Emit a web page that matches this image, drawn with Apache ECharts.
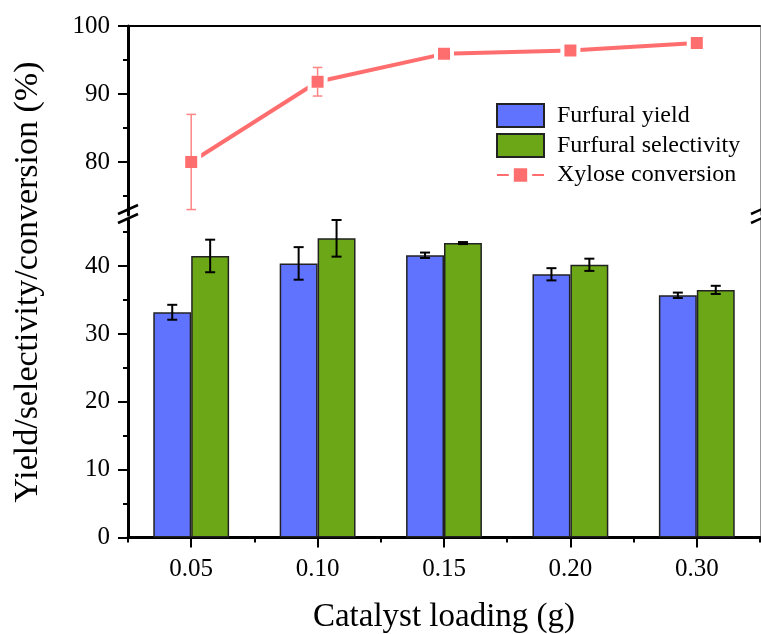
<!DOCTYPE html>
<html>
<head>
<meta charset="utf-8">
<script src="https://cdn.jsdelivr.net/npm/echarts@6/dist/echarts.min.js"></script>
<style>
html,body{margin:0;padding:0;background:#fff;}
#c{width:761px;height:634px;}
</style>
</head>
<body>
<div id="c"></div>
<script>
var categories = ['0.05', '0.10', '0.15', '0.20', '0.30'];
var yieldVals = [33.2, 40.4, 41.6, 38.8, 35.7];
var yieldErr = [1.1, 2.4, 0.4, 0.9, 0.4];
var selVals = [41.5, 44.1, 43.4, 40.2, 36.5];
var selErr = [2.4, 2.7, 0.15, 0.9, 0.6];
var convVals = [80.0, 91.8, 95.9, 96.4, 97.5];
var convErr = [7.0, 2.1, 0.4, 0.3, 0.3];
var upperLabels = [80, 90, 100];
var upperMinor = [75, 85, 95];
var lowerLabels = [0, 10, 20, 30, 40];
var lowerMinor = [5, 15, 25, 35, 45];

var FONT = '"Liberation Serif", "Times New Roman", serif';
var BLUE = '#6073FF';
var GREEN = '#6BA716';
var RED = '#FF6E6E';
var RED_ERR = '#FF8585';

var upMin = 72.2, upMax = 100, lowMin = 0, lowMax = 46.8;

function barErrData(vals, errs) {
  return vals.map(function (v, i) { return [i, v, errs[i]]; });
}

function makeBarErr(sideSign) {
  return function (params, api) {
    var i = api.value(0), v = api.value(1), e = api.value(2);
    var bw = api.size([1, 0])[0];
    var x = api.coord([i, v])[0] + sideSign * bw * 0.15;
    var yt = api.coord([i, v + e])[1];
    var yb = api.coord([i, v - e])[1];
    var cap = 5;
    var st = { stroke: '#000', lineWidth: 2 };
    return {
      type: 'group',
      children: [
        { type: 'line', shape: { x1: x, y1: yt, x2: x, y2: yb }, style: st },
        { type: 'line', shape: { x1: x - cap, y1: yt, x2: x + cap, y2: yt }, style: st },
        { type: 'line', shape: { x1: x - cap, y1: yb, x2: x + cap, y2: yb }, style: st }
      ]
    };
  };
}

function convErrRender(params, api) {
  var i = api.value(0), v = api.value(1), e = api.value(2);
  var c = api.coord([i, v]);
  var yt = api.coord([i, v + e])[1];
  var yb = api.coord([i, v - e])[1];
  var half = 6, cap = 4.75;
  var st = { stroke: RED_ERR, lineWidth: 1.5 };
  var ch = [];
  if (c[1] - yt > half + 1) {
    ch.push({ type: 'line', shape: { x1: c[0], y1: yt, x2: c[0], y2: c[1] - half }, style: st });
    ch.push({ type: 'line', shape: { x1: c[0] - cap, y1: yt, x2: c[0] + cap, y2: yt }, style: st });
  }
  if (yb - c[1] > half + 1) {
    ch.push({ type: 'line', shape: { x1: c[0], y1: c[1] + half, x2: c[0], y2: yb }, style: st });
    ch.push({ type: 'line', shape: { x1: c[0] - cap, y1: yb, x2: c[0] + cap, y2: yb }, style: st });
  }
  return { type: 'group', children: ch };
}

var labelStyle = { fontFamily: FONT, fontSize: 25, color: '#000' };

var option = {
  backgroundColor: '#fff',
  animation: false,
  grid: [
    { left: 128, right: 1, top: 26, height: 189, outerBoundsMode: 'none', containLabel: false },
    { left: 128, right: 1, top: 220, height: 317.5, outerBoundsMode: 'none', containLabel: false }
  ],
  xAxis: [
    { type: 'category', gridIndex: 0, data: categories, position: 'top',
      axisLine: { show: true, lineStyle: { color: '#000', width: 2 } },
      axisTick: { show: false }, axisLabel: { show: false }, splitLine: { show: false } },
    { type: 'category', gridIndex: 1, data: categories, position: 'bottom',
      axisLine: { show: true, lineStyle: { color: '#000', width: 3 } },
      axisTick: { show: true, alignWithLabel: true, length: 10, lineStyle: { color: '#000', width: 2 } },
      axisLabel: Object.assign({ margin: 19 }, labelStyle),
      name: 'Catalyst loading (g)', nameLocation: 'middle', nameGap: 63,
      nameTextStyle: { fontFamily: FONT, fontSize: 33, color: '#000' },
      splitLine: { show: false } },
    { type: 'category', gridIndex: 1, data: categories, position: 'bottom',
      axisLine: { show: false },
      axisTick: { show: true, length: 5, lineStyle: { color: '#000', width: 2 } },
      axisLabel: { show: false }, splitLine: { show: false } }
  ],
  yAxis: [
    { type: 'value', gridIndex: 0, min: upMin, max: upMax, position: 'left',
      axisLine: { show: true, lineStyle: { color: '#000', width: 3 } },
      axisTick: { show: true, length: 10, customValues: upperLabels, lineStyle: { color: '#000', width: 2 } },
      axisLabel: Object.assign({ margin: 18, customValues: upperLabels }, labelStyle),
      splitLine: { show: false } },
    { type: 'value', gridIndex: 0, min: upMin, max: upMax, position: 'left',
      axisLine: { show: false },
      axisTick: { show: true, length: 5, customValues: upperMinor, lineStyle: { color: '#000', width: 2 } },
      axisLabel: { show: false }, splitLine: { show: false } },
    { type: 'value', gridIndex: 0, min: upMin, max: upMax, position: 'right',
      axisLine: { show: true, lineStyle: { color: '#999', width: 1 } },
      axisTick: { show: false }, axisLabel: { show: false }, splitLine: { show: false } },
    { type: 'value', gridIndex: 1, min: lowMin, max: lowMax, position: 'left',
      axisLine: { show: true, lineStyle: { color: '#000', width: 3 } },
      axisTick: { show: true, length: 10, customValues: lowerLabels, lineStyle: { color: '#000', width: 2 } },
      axisLabel: Object.assign({ margin: 18, customValues: lowerLabels }, labelStyle),
      splitLine: { show: false } },
    { type: 'value', gridIndex: 1, min: lowMin, max: lowMax, position: 'left',
      axisLine: { show: false },
      axisTick: { show: true, length: 5, customValues: lowerMinor, lineStyle: { color: '#000', width: 2 } },
      axisLabel: { show: false }, splitLine: { show: false } },
    { type: 'value', gridIndex: 1, min: lowMin, max: lowMax, position: 'right',
      axisLine: { show: true, lineStyle: { color: '#999', width: 1 } },
      axisTick: { show: false }, axisLabel: { show: false }, splitLine: { show: false } }
  ],
  legend: {
    orient: 'vertical', left: 496, top: 103, padding: 0,
    itemWidth: 47, itemHeight: 23, itemGap: 5,
    textStyle: { fontFamily: FONT, fontSize: 24, color: '#000', padding: [0, 0, 0, 8] },
    data: [
      { name: 'Furfural yield', icon: 'rect' },
      { name: 'Furfural selectivity', icon: 'rect' },
      { name: 'Xylose conversion', itemStyle: { borderWidth: 5 } }
    ]
  },
  graphic: [
    { type: 'text', x: 28, y: 282, rotation: Math.PI / 2, z: 100,
      style: { text: 'Yield/selectivity/conversion (%)', font: '34px ' + FONT, fill: '#000', align: 'center', verticalAlign: 'middle' } },
    { type: 'line', z: 100, shape: { x1: 118, y1: 214, x2: 138, y2: 205 }, style: { stroke: '#000', lineWidth: 2.5 } },
    { type: 'line', z: 100, shape: { x1: 118, y1: 223, x2: 138, y2: 214 }, style: { stroke: '#000', lineWidth: 2.5 } },
    { type: 'line', z: 100, shape: { x1: 751, y1: 214, x2: 771, y2: 205 }, style: { stroke: '#000', lineWidth: 2.5 } },
    { type: 'line', z: 100, shape: { x1: 751, y1: 223, x2: 771, y2: 214 }, style: { stroke: '#000', lineWidth: 2.5 } }
  ],
  series: [
    { name: 'Furfural yield', type: 'bar', xAxisIndex: 1, yAxisIndex: 3, data: yieldVals,
      barWidth: '30%', barGap: '0%',
      itemStyle: { color: BLUE, borderColor: '#222', borderWidth: 1.5 } },
    { name: 'Furfural selectivity', type: 'bar', xAxisIndex: 1, yAxisIndex: 3, data: selVals,
      barWidth: '30%', barGap: '0%',
      itemStyle: { color: GREEN, borderColor: '#222', borderWidth: 1.5 } },
    { name: 'yieldErr', type: 'custom', xAxisIndex: 1, yAxisIndex: 3, clip: false, z: 5,
      renderItem: makeBarErr(-1), data: barErrData(yieldVals, yieldErr) },
    { name: 'selErr', type: 'custom', xAxisIndex: 1, yAxisIndex: 3, clip: false, z: 5,
      renderItem: makeBarErr(1), data: barErrData(selVals, selErr) },
    { name: 'Xylose conversion', type: 'line', xAxisIndex: 0, yAxisIndex: 0, data: convVals,
      symbol: 'rect', symbolSize: 16,
      itemStyle: { color: RED, borderColor: '#fff', borderWidth: 4 },
      lineStyle: { color: RED, width: 4 } },
    { name: 'convErr', type: 'custom', xAxisIndex: 0, yAxisIndex: 0, clip: false, z: 5,
      renderItem: convErrRender, data: barErrData(convVals, convErr) }
  ]
};

var chart = echarts.init(document.getElementById('c'), null, { renderer: 'canvas' });
chart.setOption(option);
</script>
</body>
</html>
